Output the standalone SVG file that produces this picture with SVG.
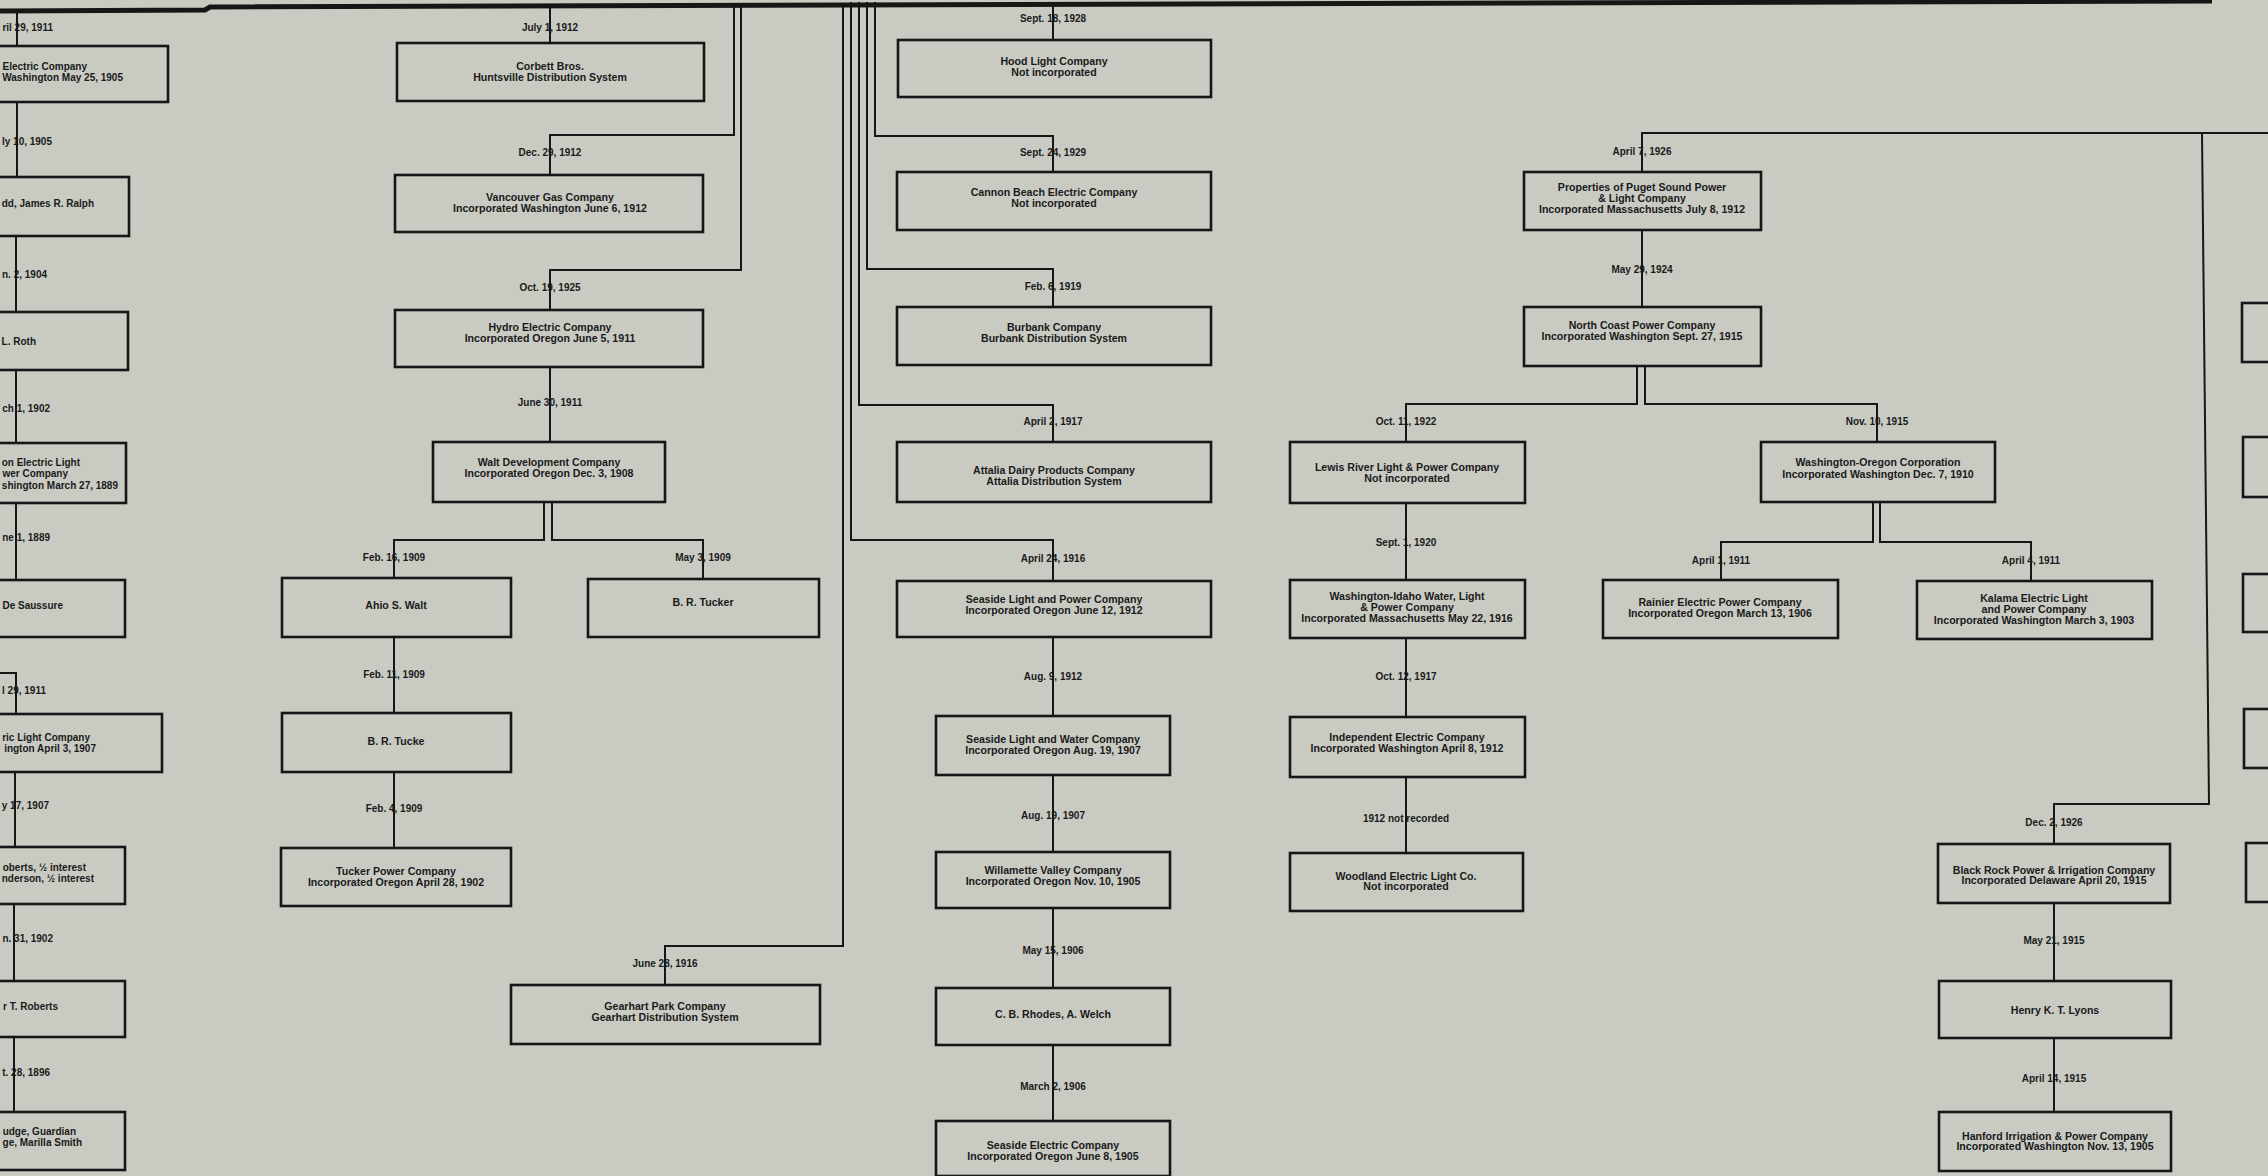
<svg xmlns="http://www.w3.org/2000/svg" width="2268" height="1176" viewBox="0 0 2268 1176">
<style>
.bg{fill:#c9cbc3}
.box{fill:none;stroke:#161616;stroke-width:2.6}
.c{fill:none;stroke:#161616;stroke-width:2}
text{font-family:"Liberation Sans",Arial,sans-serif;font-weight:bold;font-size:10.6px;fill:#1a1a1a;text-anchor:middle}
#labels text{font-size:10px}
text.e{text-anchor:end;font-size:10px}
</style>
<rect class="bg" x="0" y="0" width="2268" height="1176"/>
<path d="M0,11 L205,10 L210,7 L2212,1" fill="none" stroke="#161616" stroke-width="5"/>
<g id="connectors">
<path class="c" d="M17,12 V46"/>
<path class="c" d="M17,102 V177"/>
<path class="c" d="M16,236 V312"/>
<path class="c" d="M16,370 V443"/>
<path class="c" d="M16,503 V580"/>
<path class="c" d="M0,673 H16 V714"/>
<path class="c" d="M15,772 V847"/>
<path class="c" d="M14,904 V981"/>
<path class="c" d="M14,1037 V1112"/>
<path class="c" d="M550,6 V43"/>
<path class="c" d="M734,4 V135 H550 V175"/>
<path class="c" d="M741,4 V270 H550 V310"/>
<path class="c" d="M550,367 V442"/>
<path class="c" d="M544,502 V540 H394 V578"/>
<path class="c" d="M552,502 V540 H703 V579"/>
<path class="c" d="M394,637 V713"/>
<path class="c" d="M394,772 V848"/>
<path class="c" d="M843,3 V946 H665 V985"/>
<path class="c" d="M1053,2 V40"/>
<path class="c" d="M875,2 V136 H1053 V172"/>
<path class="c" d="M867,2 V269 H1053 V307"/>
<path class="c" d="M859,2 V405 H1053 V442"/>
<path class="c" d="M851,2 V540 H1053 V581"/>
<path class="c" d="M1053,637 V716"/>
<path class="c" d="M1053,775 V852"/>
<path class="c" d="M1053,908 V988"/>
<path class="c" d="M1053,1045 V1121"/>
<path class="c" d="M1642,172 V133 H2268"/>
<path class="c" d="M2202,133 L2209,804 H2054 V844"/>
<path class="c" d="M1642,230 V307"/>
<path class="c" d="M1637,366 V404 H1406 V442"/>
<path class="c" d="M1645,366 V404 H1877 V442"/>
<path class="c" d="M1406,503 V580"/>
<path class="c" d="M1406,638 V717"/>
<path class="c" d="M1406,777 V853"/>
<path class="c" d="M1873,502 V542 H1721 V580"/>
<path class="c" d="M1880,502 V542 H2031 V581"/>
<path class="c" d="M2054,903 V981"/>
<path class="c" d="M2054,1038 V1112"/>
</g>
<g id="labels">
<text class="e" x="53" y="31">ril 29, 1911</text>
<text class="e" x="52" y="145">ly 10, 1905</text>
<text class="e" x="47" y="278">n. 2, 1904</text>
<text class="e" x="50" y="412">ch 1, 1902</text>
<text class="e" x="50" y="541">ne 1, 1889</text>
<text class="e" x="46" y="694">l 29, 1911</text>
<text class="e" x="49" y="809">y 17, 1907</text>
<text class="e" x="53" y="942">n. 31, 1902</text>
<text class="e" x="50" y="1076">t. 28, 1896</text>
<text x="550" y="31">July 1, 1912</text>
<text x="550" y="156">Dec. 29, 1912</text>
<text x="550" y="291">Oct. 19, 1925</text>
<text x="550" y="406">June 30, 1911</text>
<text x="394" y="561">Feb. 16, 1909</text>
<text x="703" y="561">May 3, 1909</text>
<text x="394" y="678">Feb. 11, 1909</text>
<text x="394" y="812">Feb. 4, 1909</text>
<text x="665" y="967">June 28, 1916</text>
<text x="1053" y="22">Sept. 18, 1928</text>
<text x="1053" y="156">Sept. 24, 1929</text>
<text x="1053" y="290">Feb. 6, 1919</text>
<text x="1053" y="425">April 2, 1917</text>
<text x="1053" y="562">April 24, 1916</text>
<text x="1053" y="680">Aug. 9, 1912</text>
<text x="1053" y="819">Aug. 19, 1907</text>
<text x="1053" y="954">May 15, 1906</text>
<text x="1053" y="1090">March 2, 1906</text>
<text x="1642" y="155">April 7, 1926</text>
<text x="1642" y="273">May 29, 1924</text>
<text x="1406" y="425">Oct. 11, 1922</text>
<text x="1877" y="425">Nov. 10, 1915</text>
<text x="1406" y="546">Sept. 1, 1920</text>
<text x="1406" y="680">Oct. 12, 1917</text>
<text x="1406" y="822">1912 not recorded</text>
<text x="1721" y="564">April 1, 1911</text>
<text x="2031" y="564">April 4, 1911</text>
<text x="2054" y="826">Dec. 2, 1926</text>
<text x="2054" y="944">May 21, 1915</text>
<text x="2054" y="1082">April 14, 1915</text>
</g>
<g id="n-col1-a"><rect class="box" x="-140" y="46" width="308" height="56"/><text class="e" x="87" y="70">Electric Company</text><text class="e" x="123" y="81">Washington May 25, 1905</text></g>
<g id="n-col1-b"><rect class="box" x="-100" y="177" width="229" height="59"/><text class="e" x="94" y="207">dd, James R. Ralph</text></g>
<g id="n-col1-c"><rect class="box" x="-100" y="312" width="228" height="58"/><text class="e" x="36" y="345">L. Roth</text></g>
<g id="n-col1-d"><rect class="box" x="-100" y="443" width="226" height="60"/><text class="e" x="80" y="466">on Electric Light</text><text class="e" x="68" y="477">wer Company</text><text class="e" x="118" y="489">shington March 27, 1889</text></g>
<g id="n-col1-e"><rect class="box" x="-100" y="580" width="225" height="57"/><text class="e" x="63" y="609">De Saussure</text></g>
<g id="n-col1-f"><rect class="box" x="-140" y="714" width="302" height="58"/><text class="e" x="90" y="741">ric Light Company</text><text class="e" x="96" y="752">ington April 3, 1907</text></g>
<g id="n-col1-g"><rect class="box" x="-100" y="847" width="225" height="57"/><text class="e" x="86" y="871">oberts, ½ interest</text><text class="e" x="94" y="882">nderson, ½ interest</text></g>
<g id="n-col1-h"><rect class="box" x="-100" y="981" width="225" height="56"/><text class="e" x="58" y="1010">r T. Roberts</text></g>
<g id="n-col1-i"><rect class="box" x="-100" y="1112" width="225" height="58"/><text class="e" x="76" y="1135">udge, Guardian</text><text class="e" x="82" y="1146">ge, Marilla Smith</text></g>
<g id="n-corbett"><rect class="box" x="397" y="43" width="307" height="58"/><text x="550" y="70">Corbett Bros.</text><text x="550" y="81">Huntsville Distribution System</text></g>
<g id="n-vancouver-gas"><rect class="box" x="395" y="175" width="308" height="57"/><text x="550" y="201">Vancouver Gas Company</text><text x="550" y="212">Incorporated Washington June 6, 1912</text></g>
<g id="n-hydro"><rect class="box" x="395" y="310" width="308" height="57"/><text x="550" y="331">Hydro Electric Company</text><text x="550" y="342">Incorporated Oregon June 5, 1911</text></g>
<g id="n-walt-dev"><rect class="box" x="433" y="442" width="232" height="60"/><text x="549" y="466">Walt Development Company</text><text x="549" y="477">Incorporated Oregon Dec. 3, 1908</text></g>
<g id="n-ahio"><rect class="box" x="282" y="578" width="229" height="59"/><text x="396" y="609">Ahio S. Walt</text></g>
<g id="n-tucker"><rect class="box" x="588" y="579" width="231" height="58"/><text x="703" y="606">B. R. Tucker</text></g>
<g id="n-tucke"><rect class="box" x="282" y="713" width="229" height="59"/><text x="396" y="745">B. R. Tucke</text></g>
<g id="n-tucker-power"><rect class="box" x="281" y="848" width="230" height="58"/><text x="396" y="875">Tucker Power Company</text><text x="396" y="886">Incorporated Oregon April 28, 1902</text></g>
<g id="n-gearhart"><rect class="box" x="511" y="985" width="309" height="59"/><text x="665" y="1010">Gearhart Park Company</text><text x="665" y="1021">Gearhart Distribution System</text></g>
<g id="n-hood"><rect class="box" x="898" y="40" width="313" height="57"/><text x="1054" y="65">Hood Light Company</text><text x="1054" y="76">Not incorporated</text></g>
<g id="n-cannon"><rect class="box" x="897" y="172" width="314" height="58"/><text x="1054" y="196">Cannon Beach Electric Company</text><text x="1054" y="207">Not incorporated</text></g>
<g id="n-burbank"><rect class="box" x="897" y="307" width="314" height="58"/><text x="1054" y="331">Burbank Company</text><text x="1054" y="342">Burbank Distribution System</text></g>
<g id="n-attalia"><rect class="box" x="897" y="442" width="314" height="60"/><text x="1054" y="474">Attalia Dairy Products Company</text><text x="1054" y="485">Attalia Distribution System</text></g>
<g id="n-seaside-lp"><rect class="box" x="897" y="581" width="314" height="56"/><text x="1054" y="603">Seaside Light and Power Company</text><text x="1054" y="614">Incorporated Oregon June 12, 1912</text></g>
<g id="n-seaside-lw"><rect class="box" x="936" y="716" width="234" height="59"/><text x="1053" y="743">Seaside Light and Water Company</text><text x="1053" y="754">Incorporated Oregon Aug. 19, 1907</text></g>
<g id="n-willamette"><rect class="box" x="936" y="852" width="234" height="56"/><text x="1053" y="874">Willamette Valley Company</text><text x="1053" y="885">Incorporated Oregon Nov. 10, 1905</text></g>
<g id="n-rhodes"><rect class="box" x="936" y="988" width="234" height="57"/><text x="1053" y="1018">C. B. Rhodes, A. Welch</text></g>
<g id="n-seaside-elec"><rect class="box" x="936" y="1121" width="234" height="55"/><text x="1053" y="1149">Seaside Electric Company</text><text x="1053" y="1160">Incorporated Oregon June 8, 1905</text></g>
<g id="n-puget"><rect class="box" x="1524" y="172" width="237" height="58"/><text x="1642" y="191">Properties of Puget Sound Power</text><text x="1642" y="202">&amp; Light Company</text><text x="1642" y="213">Incorporated Massachusetts July 8, 1912</text></g>
<g id="n-north-coast"><rect class="box" x="1524" y="307" width="237" height="59"/><text x="1642" y="329">North Coast Power Company</text><text x="1642" y="340">Incorporated Washington Sept. 27, 1915</text></g>
<g id="n-lewis"><rect class="box" x="1290" y="442" width="235" height="61"/><text x="1407" y="471">Lewis River Light &amp; Power Company</text><text x="1407" y="482">Not incorporated</text></g>
<g id="n-wash-idaho"><rect class="box" x="1290" y="580" width="235" height="58"/><text x="1407" y="600">Washington-Idaho Water, Light</text><text x="1407" y="611">&amp; Power Company</text><text x="1407" y="622">Incorporated Massachusetts May 22, 1916</text></g>
<g id="n-independent"><rect class="box" x="1290" y="717" width="235" height="60"/><text x="1407" y="741">Independent Electric Company</text><text x="1407" y="752">Incorporated Washington April 8, 1912</text></g>
<g id="n-woodland"><rect class="box" x="1290" y="853" width="233" height="58"/><text x="1406" y="880">Woodland Electric Light Co.</text><text x="1406" y="890">Not incorporated</text></g>
<g id="n-wash-oregon"><rect class="box" x="1761" y="442" width="234" height="60"/><text x="1878" y="466">Washington-Oregon Corporation</text><text x="1878" y="478">Incorporated Washington Dec. 7, 1910</text></g>
<g id="n-rainier"><rect class="box" x="1603" y="580" width="235" height="58"/><text x="1720" y="606">Rainier Electric Power Company</text><text x="1720" y="617">Incorporated Oregon March 13, 1906</text></g>
<g id="n-kalama"><rect class="box" x="1917" y="581" width="235" height="58"/><text x="2034" y="602">Kalama Electric Light</text><text x="2034" y="613">and Power Company</text><text x="2034" y="624">Incorporated Washington March 3, 1903</text></g>
<g id="n-black-rock"><rect class="box" x="1938" y="844" width="232" height="59"/><text x="2054" y="874">Black Rock Power &amp; Irrigation Company</text><text x="2054" y="884">Incorporated Delaware April 20, 1915</text></g>
<g id="n-lyons"><rect class="box" x="1939" y="981" width="232" height="57"/><text x="2055" y="1014">Henry K. T. Lyons</text></g>
<g id="n-hanford"><rect class="box" x="1939" y="1112" width="232" height="59"/><text x="2055" y="1140">Hanford Irrigation &amp; Power Company</text><text x="2055" y="1150">Incorporated Washington Nov. 13, 1905</text></g>
<g id="n-edge-1"><rect class="box" x="2242" y="303" width="60" height="59"/></g>
<g id="n-edge-2"><rect class="box" x="2243" y="437" width="60" height="60"/></g>
<g id="n-edge-3"><rect class="box" x="2243" y="574" width="60" height="58"/></g>
<g id="n-edge-4"><rect class="box" x="2244" y="709" width="60" height="59"/></g>
<g id="n-edge-5"><rect class="box" x="2246" y="843" width="60" height="59"/></g>
</svg>
